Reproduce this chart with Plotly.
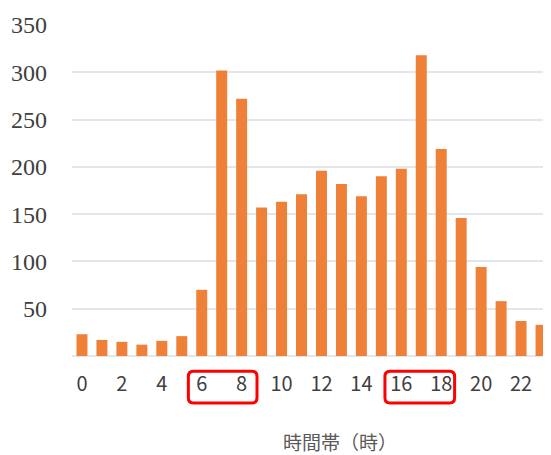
import plotly.graph_objects as go

hours = list(range(24))
counts = [23, 17, 15, 12, 16, 21, 70, 302, 272, 157, 163, 171, 196, 182, 169, 190, 198, 318, 219, 146, 94, 58, 37, 33]
x_ticks = list(range(0, 24, 2))
y_ticks = [50, 100, 150, 200, 250, 300, 350]
x_title = "時間帯（時）"
highlight_ranges = [(5.33, 8.77), (15.18, 18.67)]

fig = go.Figure()
fig.add_trace(go.Bar(x=hours, y=counts, marker=dict(color="#EF8038", line=dict(width=0)), width=0.55))


def rounded_path(x0, x1, y0, y1, rx, ry):
    return (f"M {x0+rx},{y0} L {x1-rx},{y0} Q {x1},{y0} {x1},{y0+ry} "
            f"L {x1},{y1-ry} Q {x1},{y1} {x1-rx},{y1} L {x0+rx},{y1} "
            f"Q {x0},{y1} {x0},{y1-ry} L {x0},{y0+ry} Q {x0},{y0} {x0+rx},{y0} Z")

for a, b in highlight_ranges:
    fig.add_shape(type="path", xref="x", yref="paper",
                  path=rounded_path(a, b, -0.142, -0.046, 0.25, 0.016),
                  line=dict(color="#FF0000", width=3))

fig.add_annotation(text=x_title, xref="paper", yref="paper", x=0.559, y=-0.259,
                   xanchor="center", yanchor="middle", borderpad=0,
                   showarrow=False, font=dict(family="Noto Sans CJK JP", size=19, color="#595959"))

fig.update_layout(
    width=543, height=447,
    margin=dict(l=64, r=0, t=17, b=99, autoexpand=False),
    plot_bgcolor="white", paper_bgcolor="white",
    showlegend=False,
    xaxis=dict(range=[-0.5, 23.5], tickvals=x_ticks, showgrid=False, zeroline=False,
               showline=False, ticks="", ticklabelstandoff=14, automargin=False,
               tickfont=dict(family="Noto Sans CJK JP", size=20, color="#404040")),
    yaxis=dict(range=[0, 350], tickvals=y_ticks, showgrid=True, gridcolor="#E3E6EB", gridwidth=2,
               zeroline=True, zerolinecolor="#E3E6EB", zerolinewidth=2, showline=False, ticks="",
               ticklabelstandoff=24, automargin=False,
               tickfont=dict(family="Liberation Serif", size=24, color="#404040")),
)

fig.write_html("out.html")
